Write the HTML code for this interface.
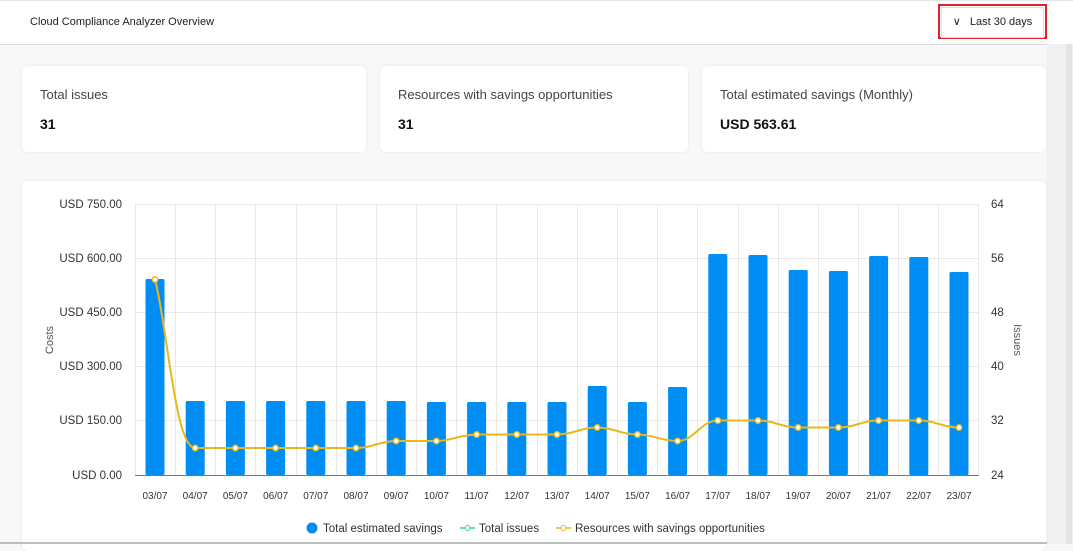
<!DOCTYPE html>
<html><head><meta charset="utf-8"><style>
body{margin:0;width:1073px;height:544px;overflow:hidden;background:#f8f8f8;font-family:"Liberation Sans",sans-serif;position:relative}
.hdr{position:absolute;left:0;top:0;width:1073px;height:43px;background:#fff;border-top:1px solid #e6e6e6;border-bottom:1px solid #dcdcdc}
.ttl{position:absolute;left:30px;top:15px;font-size:11px;color:#222}
.btn{position:absolute;left:938px;top:3px;width:109px;height:35px;border:2px solid #e0202a;box-sizing:border-box}
.btn div{position:absolute;left:1px;top:1px;width:101px;height:29px;border:1px solid #ddd;font-size:11px;color:#222;line-height:29px;text-align:center}
.card{position:absolute;background:#fff;border-radius:6px;box-shadow:0 0 3px rgba(0,0,0,.08)}
.card .l{position:absolute;left:18px;top:21px;font-size:13px;color:#444}
.card .v{position:absolute;left:18px;top:50px;font-size:14px;font-weight:bold;color:#111}
.sb{position:absolute;left:1047px;top:44px;width:26px;height:500px;background:#f0f0f0}
.sb div{position:absolute;left:19px;top:0;width:6px;height:500px;background:#e3e3e3}
</style></head><body>
<div class="hdr"><div class="ttl">Cloud Compliance Analyzer Overview</div>
<div class="btn"><div>&#8744;&nbsp;&nbsp; Last 30 days</div></div></div>
<div class="sb"><div></div></div>
<div class="card" style="left:22px;top:66px;width:344px;height:86px"><div class="l">Total issues</div><div class="v">31</div></div>
<div class="card" style="left:380px;top:66px;width:308px;height:86px"><div class="l">Resources with savings opportunities</div><div class="v">31</div></div>
<div class="card" style="left:702px;top:66px;width:344px;height:86px"><div class="l">Total estimated savings (Monthly)</div><div class="v">USD 563.61</div></div>
<div class="card" style="left:22px;top:181px;width:1024px;height:370px"></div>
<svg style="position:absolute;left:0;top:0" width="1073" height="544" font-family="Liberation Sans, sans-serif">
<g stroke="#e8e8e8" stroke-width="1">
<line x1="135" y1="204.5" x2="979" y2="204.5"/><line x1="135" y1="258.5" x2="979" y2="258.5"/><line x1="135" y1="312.5" x2="979" y2="312.5"/><line x1="135" y1="366.5" x2="979" y2="366.5"/><line x1="135" y1="420.5" x2="979" y2="420.5"/>
<line x1="135.5" y1="204" x2="135.5" y2="475"/><line x1="175.5" y1="204" x2="175.5" y2="475"/><line x1="215.5" y1="204" x2="215.5" y2="475"/><line x1="255.5" y1="204" x2="255.5" y2="475"/><line x1="296.5" y1="204" x2="296.5" y2="475"/><line x1="336.5" y1="204" x2="336.5" y2="475"/><line x1="376.5" y1="204" x2="376.5" y2="475"/><line x1="416.5" y1="204" x2="416.5" y2="475"/><line x1="456.5" y1="204" x2="456.5" y2="475"/><line x1="496.5" y1="204" x2="496.5" y2="475"/><line x1="537.5" y1="204" x2="537.5" y2="475"/><line x1="577.5" y1="204" x2="577.5" y2="475"/><line x1="617.5" y1="204" x2="617.5" y2="475"/><line x1="657.5" y1="204" x2="657.5" y2="475"/><line x1="697.5" y1="204" x2="697.5" y2="475"/><line x1="738.5" y1="204" x2="738.5" y2="475"/><line x1="778.5" y1="204" x2="778.5" y2="475"/><line x1="818.5" y1="204" x2="818.5" y2="475"/><line x1="858.5" y1="204" x2="858.5" y2="475"/><line x1="898.5" y1="204" x2="898.5" y2="475"/><line x1="938.5" y1="204" x2="938.5" y2="475"/><line x1="978.5" y1="204" x2="978.5" y2="475"/>
</g>
<g fill="#008ef5">
<rect x="145.5" y="279" width="19" height="196" rx="1.5"/>
<rect x="185.7" y="401" width="19" height="74" rx="1.5"/><rect x="225.9" y="401" width="19" height="74" rx="1.5"/><rect x="266.1" y="401" width="19" height="74" rx="1.5"/><rect x="306.3" y="401" width="19" height="74" rx="1.5"/><rect x="346.5" y="401" width="19" height="74" rx="1.5"/><rect x="386.7" y="401" width="19" height="74" rx="1.5"/>
<rect x="426.9" y="402" width="19" height="73" rx="1.5"/><rect x="467.1" y="402" width="19" height="73" rx="1.5"/><rect x="507.3" y="402" width="19" height="73" rx="1.5"/><rect x="547.5" y="402" width="19" height="73" rx="1.5"/>
<rect x="587.7" y="386" width="19" height="89" rx="1.5"/><rect x="627.9" y="402" width="19" height="73" rx="1.5"/><rect x="668.1" y="387" width="19" height="88" rx="1.5"/>
<rect x="708.3" y="254" width="19" height="221" rx="1.5"/><rect x="748.5" y="255" width="19" height="220" rx="1.5"/><rect x="788.7" y="270" width="19" height="205" rx="1.5"/><rect x="828.9" y="271" width="19" height="204" rx="1.5"/><rect x="869.1" y="256" width="19" height="219" rx="1.5"/><rect x="909.3" y="257" width="19" height="218" rx="1.5"/><rect x="949.5" y="272" width="19" height="203" rx="1.5"/>
</g>
<line x1="135" y1="475.5" x2="979" y2="475.5" stroke="#777" stroke-width="1"/>
<path d="M155,279.5 C168,330 175,448 195.2,448 L356,448 C372,448 380,441 396.2,441 L436.4,441 C452,441 460,434.5 476.6,434.5 L557,434.5 C573,434.5 581,427.5 597.2,427.5 C613,427.5 621,434.5 637.4,434.5 C653,434.5 661,441 677.6,441 C694,441 701,420.5 717.8,420.5 L758,420.5 C774,420.5 782,427.5 798.2,427.5 L838.4,427.5 C855,427.5 862,420.5 878.6,420.5 L918.8,420.5 C935,420.5 943,427.5 959,427.5" fill="none" stroke="#e8b81a" stroke-width="2"/>
<g fill="#fff" stroke="#e8b81a" stroke-width="1.3">
<circle cx="155" cy="279.5" r="2.8"/><circle cx="195.2" cy="448" r="2.8"/><circle cx="235.4" cy="448" r="2.8"/><circle cx="275.6" cy="448" r="2.8"/><circle cx="315.8" cy="448" r="2.8"/><circle cx="356" cy="448" r="2.8"/><circle cx="396.2" cy="441" r="2.8"/><circle cx="436.4" cy="441" r="2.8"/><circle cx="476.6" cy="434.5" r="2.8"/><circle cx="516.8" cy="434.5" r="2.8"/><circle cx="557" cy="434.5" r="2.8"/><circle cx="597.2" cy="427.5" r="2.8"/><circle cx="637.4" cy="434.5" r="2.8"/><circle cx="677.6" cy="441" r="2.8"/><circle cx="717.8" cy="420.5" r="2.8"/><circle cx="758" cy="420.5" r="2.8"/><circle cx="798.2" cy="427.5" r="2.8"/><circle cx="838.4" cy="427.5" r="2.8"/><circle cx="878.6" cy="420.5" r="2.8"/><circle cx="918.8" cy="420.5" r="2.8"/><circle cx="959" cy="427.5" r="2.8"/>
</g>
<g font-size="11.5" fill="#333" text-anchor="end">
<text x="122" y="208">USD 750.00</text><text x="122" y="262">USD 600.00</text><text x="122" y="316">USD 450.00</text><text x="122" y="370">USD 300.00</text><text x="122" y="424">USD 150.00</text><text x="122" y="479">USD 0.00</text>
</g>
<g font-size="11.5" fill="#333">
<text x="991" y="208">64</text><text x="991" y="262">56</text><text x="991" y="316">48</text><text x="991" y="370">40</text><text x="991" y="424">32</text><text x="991" y="479">24</text>
</g>
<text transform="translate(53,340) rotate(-90)" font-size="11" fill="#555" text-anchor="middle">Costs</text>
<text transform="translate(1014,340) rotate(90)" font-size="11" fill="#555" text-anchor="middle">Issues</text>
<g font-size="10" fill="#333" text-anchor="middle">
<text x="155" y="499">03/07</text><text x="195.2" y="499">04/07</text><text x="235.4" y="499">05/07</text><text x="275.6" y="499">06/07</text><text x="315.8" y="499">07/07</text><text x="356" y="499">08/07</text><text x="396.2" y="499">09/07</text><text x="436.4" y="499">10/07</text><text x="476.6" y="499">11/07</text><text x="516.8" y="499">12/07</text><text x="557" y="499">13/07</text><text x="597.2" y="499">14/07</text><text x="637.4" y="499">15/07</text><text x="677.6" y="499">16/07</text><text x="717.8" y="499">17/07</text><text x="758" y="499">18/07</text><text x="798.2" y="499">19/07</text><text x="838.4" y="499">20/07</text><text x="878.6" y="499">21/07</text><text x="918.8" y="499">22/07</text><text x="959" y="499">23/07</text>
</g>
<circle cx="312" cy="528" r="5.5" fill="#008ef5"/>
<text x="323" y="532" font-size="11.5" fill="#333">Total estimated savings</text>
<line x1="460" y1="528" x2="475" y2="528" stroke="#2ed3a0" stroke-width="1.5"/><circle cx="467.5" cy="528" r="2.5" fill="#fff" stroke="#2ed3a0"/>
<text x="479" y="532" font-size="11.5" fill="#333">Total issues</text>
<line x1="556" y1="528" x2="571" y2="528" stroke="#e8b81a" stroke-width="1.5"/><circle cx="563.5" cy="528" r="2.5" fill="#fff" stroke="#e8b81a"/>
<text x="575" y="532" font-size="11.5" fill="#333">Resources with savings opportunities</text>
<line x1="0" y1="543" x2="1047" y2="543" stroke="#b8c0b8" stroke-width="2"/>
</svg>
</body></html>
